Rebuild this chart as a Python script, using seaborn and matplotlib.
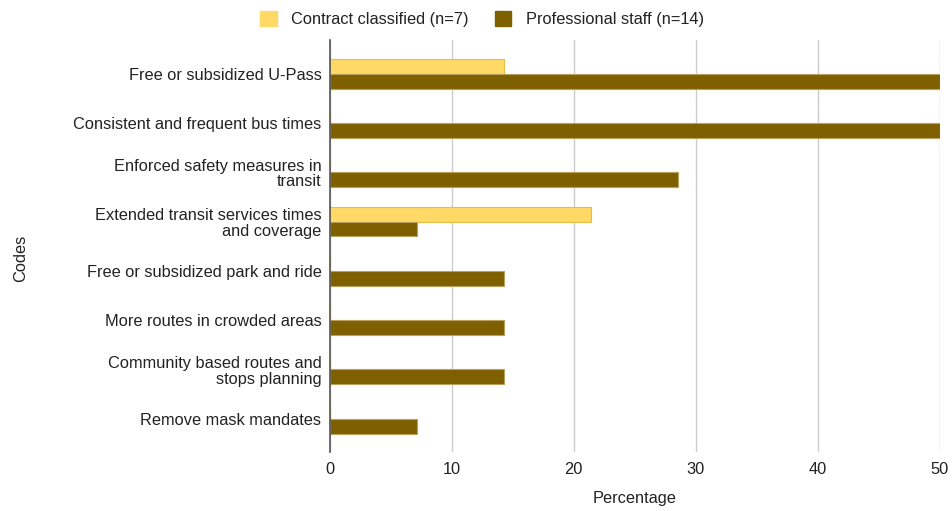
import matplotlib
matplotlib.use("Agg")
import matplotlib.pyplot as plt
import seaborn as sns
import pandas as pd
from matplotlib.patches import Patch

codes = [
    "Free or subsidized U-Pass",
    "Consistent and frequent bus times",
    "Enforced safety measures in\ntransit",
    "Extended transit services times\nand coverage",
    "Free or subsidized park and ride",
    "More routes in crowded areas",
    "Community based routes and\nstops planning",
    "Remove mask mandates",
]
groups = ["Contract classified (n=7)", "Professional staff (n=14)"]
contract = [14.29, 0, 0, 21.43, 0, 0, 0, 0]
professional = [50, 50, 28.57, 7.14, 14.29, 14.29, 14.29, 7.14]
x_ticks = [0, 10, 20, 30, 40, 50]

colors = ["#FFD966", "#7F6000"]
edges = ["#E6BD45", "#B8A15E"]

df = pd.DataFrame({
    "code": codes * 2,
    "pct": contract + professional,
    "group": [groups[0]] * len(codes) + [groups[1]] * len(codes),
})

sns.set_theme(style="white")
plt.rcParams["font.family"] = ["Liberation Sans", "DejaVu Sans"]

FS = 11.8
fig = plt.figure(figsize=(9.53, 5.11), dpi=100)
ax = fig.add_axes([0.346, 0.115, 0.64, 0.807])

sns.barplot(data=df, y="code", x="pct", hue="group", hue_order=groups,
            order=codes, palette=colors, orient="h", width=0.6,
            legend=False, ax=ax, errorbar=None, saturation=1)

n = len(codes)
for i, p in enumerate(ax.patches):
    g = i // n
    p.set_edgecolor(edges[g])
    p.set_linewidth(0.8)

ax.set_xlim(0, 50)
ax.set_ylim(7.68, -0.69)
ax.set_xticks(x_ticks)
ax.set_xticklabels([str(t) for t in x_ticks])
ax.grid(axis="x", color="#CCCCCC", linewidth=1)
ax.grid(axis="y", visible=False)
ax.set_axisbelow(True)
for s in ["top", "right", "bottom"]:
    ax.spines[s].set_visible(False)
ax.spines["left"].set_color("#555555")
ax.spines["left"].set_linewidth(1.2)
ax.spines["left"].set_zorder(3)
ax.tick_params(axis="both", length=0, labelsize=FS, colors="#222222")
ax.tick_params(axis="y", pad=6)
ax.tick_params(axis="x", pad=7)
for lbl in ax.get_yticklabels():
    lbl.set_horizontalalignment("right")
    lbl.set_multialignment("right")
    lbl.set_linespacing(1.05)

ax.set_xlabel("Percentage", fontsize=FS, color="#222222", labelpad=10)
ax.set_ylabel("")
fig.text(0.022, 0.495, "Codes", rotation=90, fontsize=FS, color="#222222",
         ha="center", va="center")

handles = [Patch(facecolor=colors[0], edgecolor=colors[0]),
           Patch(facecolor=colors[1], edgecolor=colors[1])]
fig.legend(handles, groups, loc="center", bbox_to_anchor=(0.506, 0.962),
           ncol=2, frameon=False, fontsize=FS, handlelength=1.0,
           handleheight=1.0, handletextpad=0.9, columnspacing=1.6,
           labelcolor="#222222")

fig.savefig("out.png", dpi=100)
